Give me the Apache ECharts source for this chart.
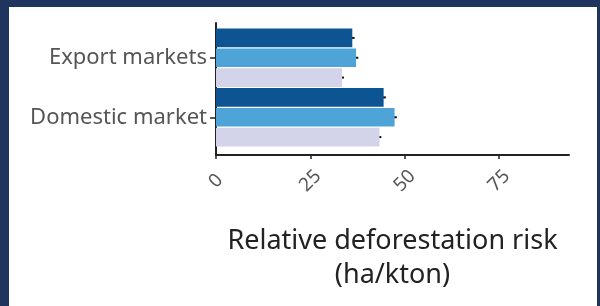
<!DOCTYPE html>
<html>
<head>
<meta charset="utf-8">
<script src="https://cdn.jsdelivr.net/npm/echarts@6/dist/echarts.min.js"></script>
<style>
  html, body { margin: 0; padding: 0; background: #1e3560; }
  #card { position: absolute; left: 9px; top: 7px; width: 588px; height: 299px; background: #fff; }
  #chart { position: absolute; left: 0; top: 0; width: 600px; height: 306px; }
</style>
</head>
<body>
<div id="card"></div>
<div id="chart"></div>
<script>
// data
const categories = ['Export markets', 'Domestic market']
const seriesDark = [36.1, 44.4]
const seriesBlue = [37.1, 47.3]
const seriesLavender = [33.4, 43.3]
const errors = [0.6, 0.6, 0.5, 0.6, 0.6, 0.5]
const xTicks = [0, 25, 50, 75]
const colors = ['#0c5592', '#4ea4d6', '#d3d3ea']

// one slot per bar: dark, blue, lavender for each market
const slots = []
const barData = []
categories.forEach((c, i) => {
  [seriesDark, seriesBlue, seriesLavender].forEach((s, j) => {
    slots.push(c + ' ' + j)
    barData.push({ value: s[i], itemStyle: { color: colors[j] } })
  })
})
const errData = barData.map((d, i) => [i, d.value - errors[i], d.value + errors[i]])

const chart = echarts.init(document.getElementById('chart'))
const font = 'Noto Sans'
chart.setOption({
  animation: false,
  textStyle: { fontFamily: font },
  grid: [
    { left: 216, right: 31, top: 28, bottom: 159, outerBoundsMode: 'none' },
    { left: 216, right: 31, top: 23, bottom: 151, outerBoundsMode: 'none' }
  ],
  xAxis: [
    {
      gridIndex: 0, type: 'value', min: 0, max: 93.5,
      show: false
    },
    {
      gridIndex: 1, type: 'value', min: 0, max: 93.5, interval: 25,
      splitLine: { show: false },
      axisLine: { show: true, lineStyle: { color: '#222', width: 2 } },
      axisTick: { show: true, length: 4, lineStyle: { color: '#222', width: 1.5 }, customValues: xTicks },
      axisLabel: {
        customValues: xTicks,
        rotate: 45, align: 'center', verticalAlign: 'middle', margin: 26,
        fontSize: 19, color: '#555', fontFamily: font
      },
      name: 'Relative deforestation risk\n(ha/kton)',
      nameLocation: 'middle',
      nameGap: 69,
      nameTextStyle: { fontSize: 27, color: '#222', lineHeight: 34, fontFamily: font }
    }
  ],
  yAxis: [
    {
      gridIndex: 0, type: 'category', data: slots, inverse: true,
      show: false, boundaryGap: true
    },
    {
      gridIndex: 0, type: 'category', data: categories, inverse: true,
      position: 'left',
      axisLine: { show: false },
      axisTick: { show: true, length: 6, alignWithLabel: true, lineStyle: { color: '#222', width: 1.5 } },
      axisLabel: { fontSize: 22, color: '#555', margin: 9, fontFamily: font }
    },
    {
      gridIndex: 1, type: 'value',
      axisLine: { show: true, lineStyle: { color: '#222', width: 2 } },
      axisTick: { show: false },
      axisLabel: { show: false },
      splitLine: { show: false }
    }
  ],
  series: [
    {
      type: 'bar',
      xAxisIndex: 0, yAxisIndex: 0,
      data: barData,
      barCategoryGap: '6%'
    },
    {
      type: 'custom',
      xAxisIndex: 0, yAxisIndex: 0,
      data: errData,
      encode: { y: 0, x: [1, 2] },
      renderItem: function (params, api) {
        const a = api.coord([api.value(1), api.value(0)])
        const b = api.coord([api.value(2), api.value(0)])
        return {
          type: 'line',
          shape: { x1: a[0], y1: a[1], x2: b[0], y2: b[1] },
          style: { stroke: '#111', lineWidth: 2 }
        }
      }
    }
  ]
})
</script>
</body>
</html>
